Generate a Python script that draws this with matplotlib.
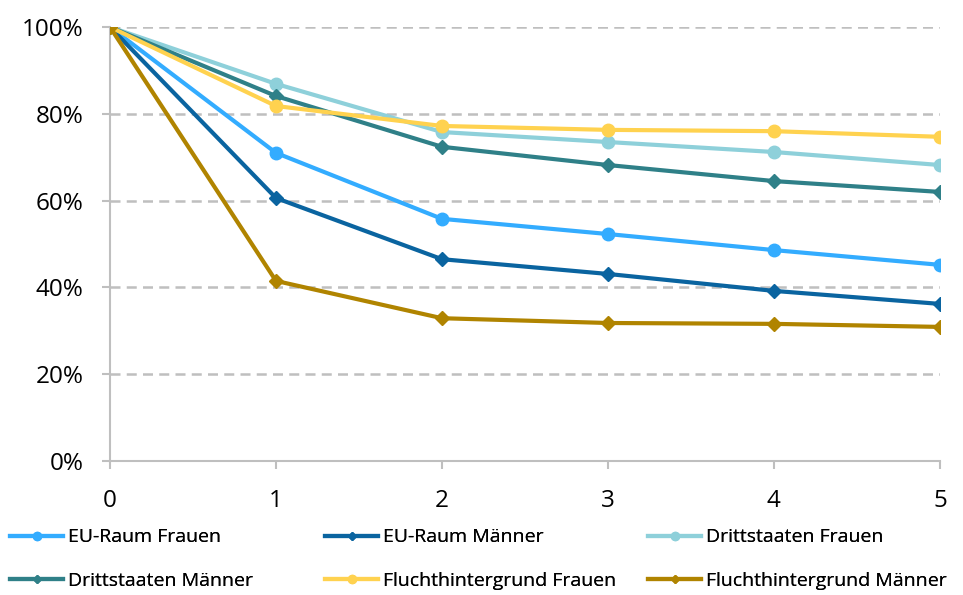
import matplotlib
matplotlib.use("Agg")
import matplotlib.pyplot as plt
from matplotlib.ticker import FuncFormatter

plt.rcParams['font.family'] = ['Open Sans', 'DejaVu Sans']

x = [0, 1, 2, 3, 4, 5]
series_names = ["EU-Raum Frauen", "EU-Raum Männer", "Drittstaaten Frauen",
                "Drittstaaten Männer", "Fluchthintergrund Frauen", "Fluchthintergrund Männer"]
eu_frauen = [100, 71.0, 55.8, 52.3, 48.6, 45.2]
eu_maenner = [100, 60.6, 46.5, 43.1, 39.2, 36.2]
dritt_frauen = [100, 86.9, 75.8, 73.5, 71.2, 68.2]
dritt_maenner = [100, 84.1, 72.4, 68.2, 64.5, 62.0]
flucht_frauen = [100, 81.8, 77.2, 76.3, 76.0, 74.7]
flucht_maenner = [100, 41.5, 32.9, 31.8, 31.6, 30.9]

values = [eu_frauen, eu_maenner, dritt_frauen, dritt_maenner, flucht_frauen, flucht_maenner]
colors = ["#33ACFF", "#0A64A0", "#8ED0DA", "#2F8088", "#FFD24F", "#B08400"]
markers = ["o", "D", "o", "D", "o", "D"]
msizes = [9, 7, 9, 7, 9, 7]

fig = plt.figure(figsize=(9.63, 5.95), dpi=100)
ax = fig.add_axes([0.1142, 0.2252, 0.976 - 0.1142, 0.9546 - 0.2252])

handles = []
for v, c, m, ms, n in zip(values, colors, markers, msizes, series_names):
    h, = ax.plot(x, v, color=c, lw=3, marker=m, ms=ms, label=n, zorder=3)
    handles.append(h)

ax.set_xlim(0, 5)
ax.set_ylim(0, 100)
ax.set_yticks([0, 20, 40, 60, 80, 100])
ax.set_xticks(x)
ax.yaxis.set_major_formatter(FuncFormatter(lambda v, p: f"{int(v)}%"))
for yv in [20, 40, 60, 80, 100]:
    ax.axhline(yv, color="#BFBFBF", lw=1.8, ls=(0, (4, 2.5)), zorder=1)

for s in ["top", "right"]:
    ax.spines[s].set_visible(False)
for s in ["left", "bottom"]:
    ax.spines[s].set_color("#BFBFBF")
    ax.spines[s].set_linewidth(1.5)
ax.tick_params(axis="both", colors="#BFBFBF", width=1.5, length=6, labelsize=17.5,
               labelcolor="#000000")
ax.tick_params(axis="x", pad=14)
ax.tick_params(axis="y", pad=13)

col_x = [10, 325, 648]
for i, cx in enumerate(col_x):
    hs = [handles[i], handles[i + 3]]
    leg = fig.legend(hs, [h.get_label() for h in hs], loc="center left",
                     bbox_to_anchor=(cx / 963, 1 - 559 / 595), ncol=1, frameon=False,
                     fontsize=14, handlelength=2.75, handletextpad=0.25,
                     labelspacing=1.3, borderpad=0, borderaxespad=0, markerscale=0.65)
    fig.add_artist(leg)

fig.savefig("out.png", dpi=100)
